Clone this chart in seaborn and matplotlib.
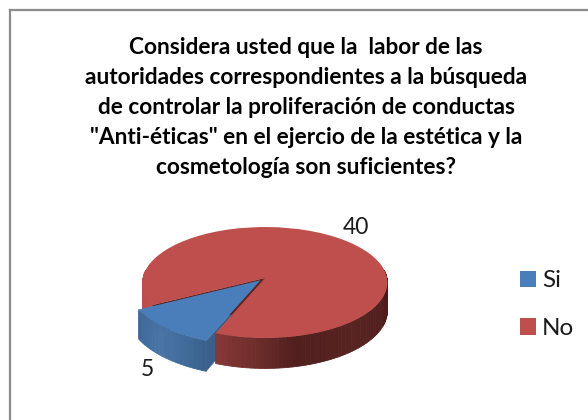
import numpy as np
import matplotlib
matplotlib.use("Agg")
import matplotlib.pyplot as plt
from matplotlib.transforms import Transform
import seaborn as sns

categories = ["Si", "No"]
values = [5, 40]
title_lines = [
    "Considera usted que la  labor de las",
    "autoridades correspondientes a la búsqueda",
    "de controlar la proliferación de conductas",
    "\"Anti-éticas\" en el ejercio de la estética y la",
    "cosmetología son suficientes?",
]

BLUE = "#4A7EBB"
RED = "#BE4F4C"
CX, CY, RX, RY, K, DEPTH = 265.0, 278.0, 122.0, 55.1, 0.081, 28.0


def project(u, v):
    s = 1.0 / (1.0 + K * np.asarray(v))
    return CX + RX * np.asarray(u) * s, CY - RY * np.asarray(v) * s, s


class Perspective(Transform):
    input_dims = 2
    output_dims = 2
    is_separable = False
    has_inverse = False

    def transform_non_affine(self, xy):
        xy = np.asarray(xy, float)
        x, y, _ = project(xy[:, 0], xy[:, 1])
        return np.column_stack([x, y])


sns.set_theme(style="white")
plt.rcParams["font.family"] = ["Lato", "DejaVu Sans"]

fig = plt.figure(figsize=(5.88, 4.20), dpi=100)
ax = fig.add_axes([10 / 588, 0, 578 / 588, 410 / 420])
wedges, _ = ax.pie(values, colors=[BLUE, RED], explode=[0.055, 0],
                   startangle=208, counterclock=True, labels=None,
                   wedgeprops={"linewidth": 0})
ax.set_aspect("auto")
ax.set_xlim(10, 588)
ax.set_ylim(420, 10)
ax.set_frame_on(True)
for name, sp in ax.spines.items():
    sp.set_visible(name in ("top", "left"))
    sp.set_color("#8C8C8C")
    sp.set_linewidth(1.6)

blue, red = wedges
blue.set_radius(1.08)
persp = Perspective() + ax.transData
red.set_transform(persp)
blue.set_transform(persp)
red.set_zorder(3)
blue.set_zorder(6)


def side(wedge, t1, t2, anchors, z):
    ts, cols = zip(*anchors)
    cols = np.array(cols) / 255.0
    edges = np.arange(t1, t2 + 2, 2.0)
    edges[-1] = t2
    cx0, cy0 = wedge.center
    for a, b in zip(edges[:-1], edges[1:]):
        th = np.radians(np.linspace(a, b, 3))
        u = cx0 + wedge.r * np.cos(th)
        v = cy0 + wedge.r * np.sin(th)
        x, y, s = project(u, v)
        xs = np.r_[x, x[::-1]]
        ys = np.r_[y, (y + DEPTH * s)[::-1]]
        mid = (a + b) / 2
        c = [np.interp(mid, ts, cols[:, i]) for i in range(3)]
        ax.fill(xs, ys, color=c, lw=0.6, zorder=z)


def cut(wedge, theta, color, z):
    cx0, cy0 = wedge.center
    th = np.radians(theta)
    x, y, s = project(np.array([cx0, cx0 + wedge.r * np.cos(th)]),
                      np.array([cy0, cy0 + wedge.r * np.sin(th)]))
    ax.fill([x[0], x[1], x[1], x[0]],
            [y[0], y[1], y[1] + DEPTH * s[1], y[0] + DEPTH * s[0]],
            color=color, lw=0.3, zorder=z)


# red outer wall (front part) and inner cut
side(red, red.theta1, 368,
     [(249, (132, 56, 54)), (265, (112, 46, 44)), (283, (80, 31, 30)),
      (313, (88, 36, 34)), (345, (78, 30, 29)), (368, (70, 27, 26))], 2)
side(red, 172, 208, [(172, (188, 78, 75)), (208, (188, 78, 75))], 2)
cut(red, 208, "#5A2221", 2.5)

# blue inner wall sits behind the red top, outer wall in front of it
cut(blue, blue.theta2, "#39608C", 1)
side(blue, blue.theta1, blue.theta2,
     [(208, (62, 104, 152)), (225, (72, 116, 166)), (240, (64, 106, 152)),
      (248, (58, 96, 140))], 5)

# title
for line, y in zip(title_lines, [47, 77, 107, 137, 167]):
    ax.text(306, y, line, ha="center", va="center", fontsize=16.3,
            fontweight="bold", color="black")

# data labels
ax.text(356, 228, str(values[1]), ha="center", va="center", fontsize=16.5, color="#1A1A1A")
ax.text(147, 369, str(values[0]), ha="center", va="center", fontsize=16.5, color="#1A1A1A")

ax.legend(wedges, categories, loc="upper left",
          bbox_to_anchor=(515.5 / 588, 1 - 265.5 / 420), bbox_transform=fig.transFigure,
          frameon=False, fontsize=17.5, handlelength=0.66, handleheight=0.66,
          handletextpad=0.22, labelspacing=1.1, borderpad=0.2, borderaxespad=0,
          labelcolor="#1A1A1A")

fig.savefig("out.png", dpi=100, facecolor="white")
